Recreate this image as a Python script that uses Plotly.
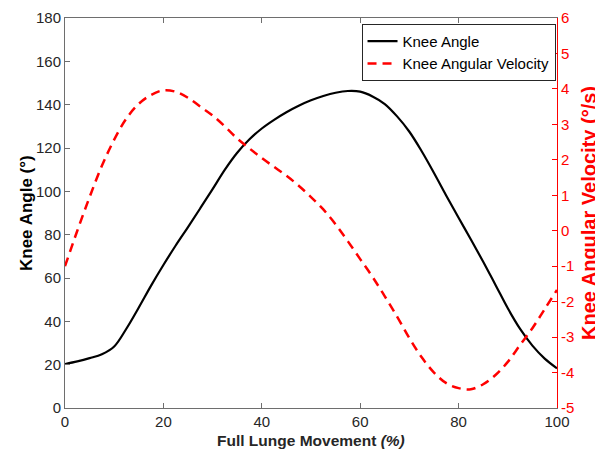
import plotly.graph_objects as go

# Knee angle (degrees) vs % of lunge
angle_x = [0, 2.5, 5, 7.5, 10, 12.5, 15, 17.5, 20, 22.5, 25, 27.5, 30, 32.5, 35, 37.5, 40, 42.5, 45, 47.5, 50,
           52.5, 55, 57.5, 60, 62.5, 65, 67.5, 70, 72.5, 75, 77.5, 80, 82.5, 85, 87.5, 90, 92.5, 95, 97.5, 100]
angle_y = [20.3, 21.5, 23.0, 24.8, 28.4, 36.7, 46.4, 56.5, 66, 75, 83.5, 92.2, 101, 110, 117.8, 124, 129, 133, 136.5, 139.5, 142,
           144, 145.5, 146.3, 146, 143.8, 140.3, 134.6, 127.5, 118.5, 108.5, 98, 87.8, 77.8, 67.5, 56.8, 46, 36.5, 28.8, 22.8, 18.3]

# Knee angular velocity (deg/s) vs % of lunge
vel_x = [0, 2.5, 5, 7.5, 10, 12.5, 15, 17.5, 20, 22.5, 25, 27.5, 30, 32.5, 35, 37.5, 40, 42.5, 45, 47.5, 50,
         52.5, 55, 57.5, 60, 62.5, 65, 67.5, 70, 72.5, 75, 77.5, 80, 82.5, 85, 87.5, 90, 92.5, 95, 97.5, 100]
vel_y = [-1.0, 0.0, 0.95, 1.83, 2.57, 3.17, 3.58, 3.83, 3.96, 3.92, 3.75, 3.5, 3.25, 2.94, 2.6, 2.32, 2.05, 1.8, 1.55, 1.27, 0.95,
         0.6, 0.18, -0.3, -0.8, -1.3, -1.85, -2.42, -3.03, -3.57, -4.0, -4.3, -4.44, -4.47, -4.33, -4.07, -3.7, -3.22, -2.75, -2.21, -1.67]

x_ticks = [0, 20, 40, 60, 80, 100]
left_ticks = [0, 20, 40, 60, 80, 100, 120, 140, 160, 180]
right_ticks = [-5, -4, -3, -2, -1, 0, 1, 2, 3, 4, 5, 6]

FONT = "Liberation Sans, Arial, sans-serif"
AX = "#6e6e6e"
TXT = "#262626"
RED = "#ff0000"

fig = go.Figure()
fig.add_trace(go.Scatter(x=angle_x, y=angle_y, mode="lines", name="Knee Angle",
                         line=dict(color="black", width=2.2, shape="spline", smoothing=1.0)))
fig.add_trace(go.Scatter(x=vel_x, y=vel_y, mode="lines", name="Knee Angular Velocity", yaxis="y2",
                         line=dict(color=RED, width=2.5, dash="9px,6px", shape="spline", smoothing=1.0)))

fig.update_layout(
    width=603, height=452,
    margin=dict(l=57, r=54, t=10, b=52),
    paper_bgcolor="white", plot_bgcolor="white",
    font=dict(family=FONT, size=15, color=TXT),
    showlegend=True,
    legend=dict(x=0.997, y=0.985, xanchor="right", yanchor="top",
                bgcolor="white", bordercolor="#262626", borderwidth=1,
                font=dict(family=FONT, size=15, color="black"),
                itemwidth=30, tracegroupgap=0),
    xaxis=dict(range=[0, 100], tickvals=x_ticks, ticktext=[str(v) for v in x_ticks],
               showgrid=False, zeroline=False, showline=True, linecolor=AX, linewidth=1,
               mirror="ticks", ticks="inside", ticklen=5, tickcolor=AX, automargin=False,
               tickfont=dict(size=15, color=TXT)),
    yaxis=dict(range=[0, 180], tickvals=left_ticks, ticktext=[str(v) for v in left_ticks],
               showgrid=False, zeroline=False, showline=True, linecolor=AX, linewidth=1,
               ticks="inside", ticklen=5, tickcolor=AX, automargin=False,
               tickfont=dict(size=15, color=TXT)),
    yaxis2=dict(range=[-5, 6], overlaying="y", side="right", anchor="x",
                tickvals=right_ticks, ticktext=[str(v) for v in right_ticks],
                showgrid=False, zeroline=False, showline=True, linecolor=RED, linewidth=1,
                ticks="inside", ticklen=5, tickcolor=RED, automargin=False,
                tickfont=dict(size=15, color=RED)),
)

# Axis titles placed as annotations
fig.add_annotation(text="<b>Full Lunge Movement <i>(%)</i></b>", xref="paper", yref="paper",
                   x=0.5, y=0, yshift=-32, xanchor="center", yanchor="middle", showarrow=False,
                   font=dict(family=FONT, size=15.5, color=TXT))
fig.add_annotation(text="<b>Knee Angle (°)</b>", xref="paper", yref="paper",
                   x=0, y=0.5, xshift=-39, xanchor="center", yanchor="middle", showarrow=False,
                   textangle=-90, font=dict(family=FONT, size=17, color="black"))
fig.add_annotation(text="<b>Knee Angular Velocity (°/s)</b>", xref="paper", yref="paper",
                   x=1, y=0.5, xshift=32, xanchor="center", yanchor="middle", showarrow=False,
                   textangle=-90, font=dict(family=FONT, size=20, color=RED))

fig.write_html("out.html")
